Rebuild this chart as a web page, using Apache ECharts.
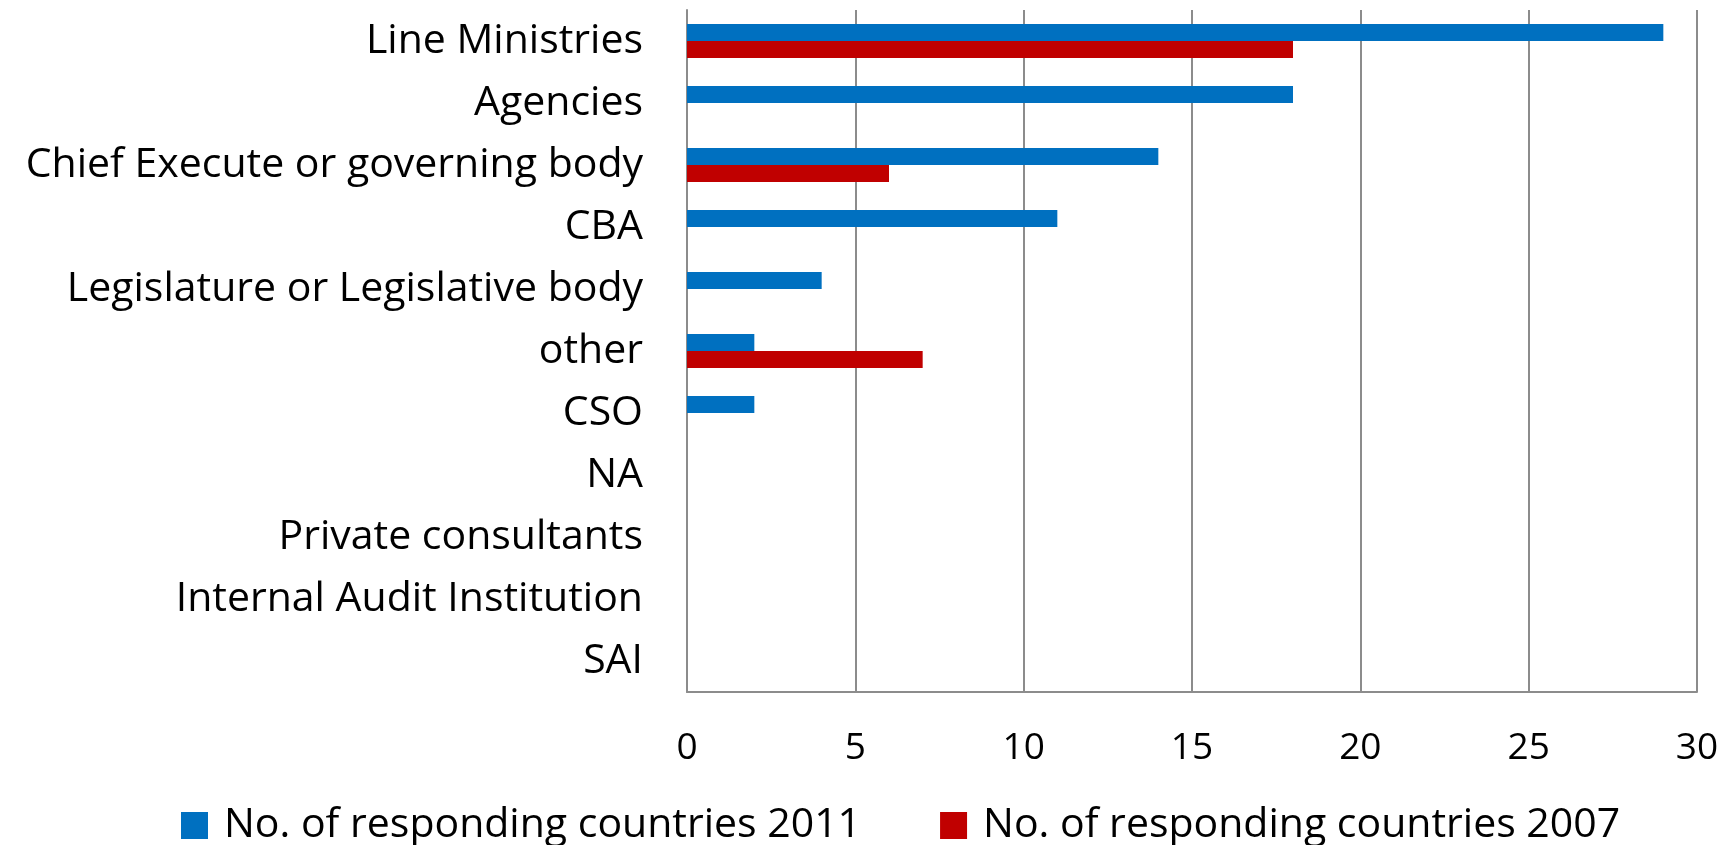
<!DOCTYPE html>
<html>
<head>
<meta charset="utf-8">
<script src="https://cdn.jsdelivr.net/npm/echarts@6/dist/echarts.min.js"></script>
<style>
  html, body { margin: 0; padding: 0; background: #fff; }
  #chart { width: 1735px; height: 845px; }
</style>
</head>
<body>
<div id="chart"></div>
<script>
// Institutions involved, listed top to bottom
const categories = [
  'Line Ministries',
  'Agencies',
  'Chief Execute or governing body',
  'CBA',
  'Legislature or Legislative body',
  'other',
  'CSO',
  'NA',
  'Private consultants',
  'Internal Audit Institution',
  'SAI'
];
const values2011 = [29, 18, 14, 11, 4, 2, 2, 0, 0, 0, 0];
const values2007 = [18, 0, 6, 0, 0, 7, 0, 0, 0, 0, 0];
const seriesNames = ['No. of responding countries 2011', 'No. of responding countries 2007'];
const xTicks = { min: 0, max: 30, interval: 5 };

const FONT = "'Open Sans', 'Noto Sans', sans-serif";
const chart = echarts.init(document.getElementById('chart'), null, { renderer: 'canvas' });

chart.setOption({
  animation: false,
  textStyle: { fontFamily: FONT },
  grid: { left: 687, top: 10, right: 38, bottom: 153, containLabel: false },
  legend: {
    left: 176,
    top: 800,
    itemWidth: 27,
    itemHeight: 27,
    itemGap: 79,
    icon: 'rect',
    textStyle: { fontSize: 41, color: '#000', fontFamily: FONT, padding: [0, 0, 0, 11] },
    data: seriesNames
  },
  xAxis: {
    type: 'value',
    min: xTicks.min,
    max: xTicks.max,
    interval: xTicks.interval,
    axisLine: { show: true, lineStyle: { color: '#8c8c8c', width: 2 } },
    axisTick: { show: false },
    axisLabel: { fontSize: 37, color: '#000', margin: 38, fontFamily: FONT },
    splitLine: { show: true, lineStyle: { color: '#8c8c8c', width: 2 } }
  },
  yAxis: {
    type: 'category',
    inverse: true,
    data: categories,
    axisLine: { show: true, lineStyle: { color: '#8c8c8c', width: 2 } },
    axisTick: { show: false },
    axisLabel: { fontSize: 41, color: '#000', margin: 44, fontFamily: FONT }
  },
  series: [
    {
      name: seriesNames[0],
      type: 'bar',
      data: values2011,
      barWidth: 17,
      barGap: '0%',
      itemStyle: { color: '#0070C0' }
    },
    {
      name: seriesNames[1],
      type: 'bar',
      data: values2007,
      barWidth: 17,
      barGap: '0%',
      itemStyle: { color: '#C00000' }
    }
  ]
});
</script>
</body>
</html>
